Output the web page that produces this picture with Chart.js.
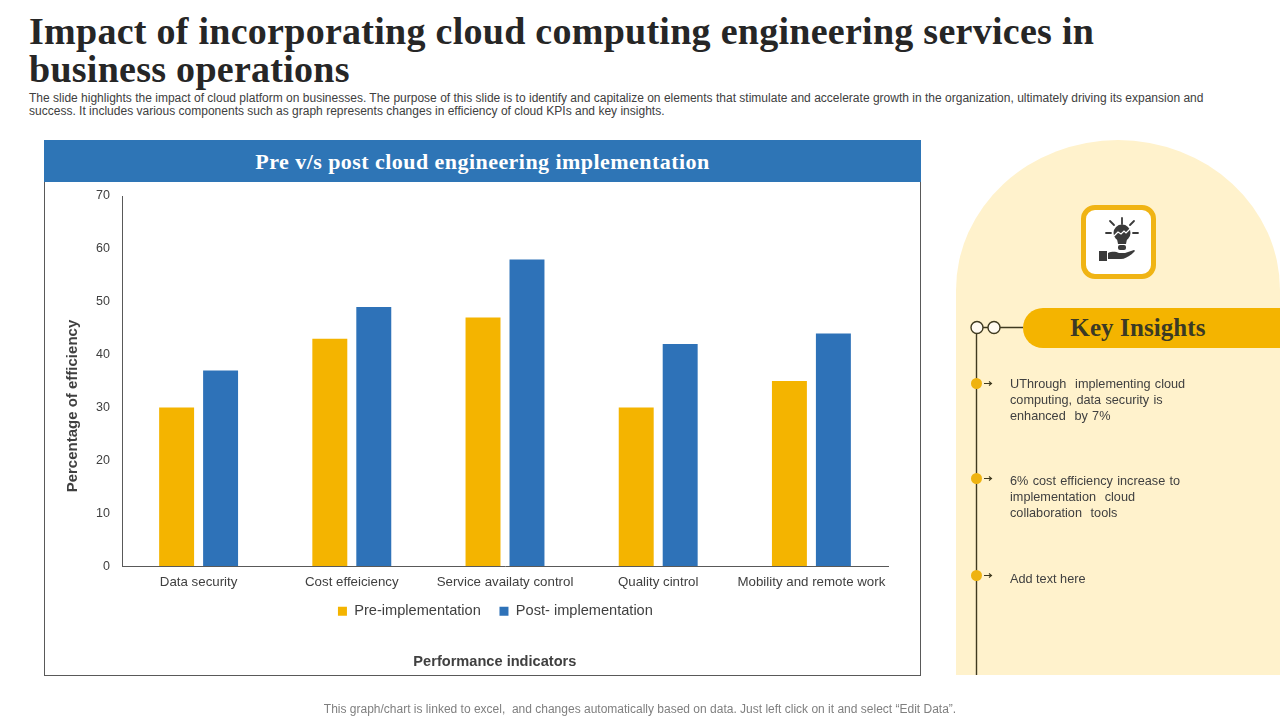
<!DOCTYPE html>
<html><head><meta charset="utf-8">
<script src="https://cdn.jsdelivr.net/npm/chart.js@4"></script>
<style>
html,body{margin:0;padding:0;background:#fff;width:1280px;height:720px;overflow:hidden}
div,canvas,svg{position:absolute}
.t{font-family:"Liberation Sans",Arial,sans-serif;white-space:nowrap}
#h{left:29px;top:12px;font:bold 38px/38px "Liberation Serif",serif;color:#262626;white-space:nowrap;letter-spacing:.27px}
#sub{left:29px;top:92px;font-size:12px;line-height:13px;color:#404040;letter-spacing:.006px}
#banner{left:44px;top:140px;width:877px;height:42px;background:#2e75b6;color:#fff;text-align:center;font:bold 22px/44px "Liberation Serif",serif;letter-spacing:.45px}
#box{left:44px;top:182px;width:875px;height:493px;border:1px solid #595959;border-top:none;background:#fff}
#arch{left:956px;top:140px;width:324px;height:535px;background:#fff2cc;border-radius:162px 162px 0 0/150px 150px 0 0}
#icon{left:1081px;top:205px;width:65px;height:64px;border:5px solid #f0b414;border-radius:14px;background:#fff}
#pill{left:1023px;top:308px;width:257px;height:40px;background:#f4b400;border-radius:20px 0 0 20px;color:#3b3a25;font:bold 25px/40px "Liberation Serif",serif;letter-spacing:.1px;text-align:center;box-sizing:border-box;padding-right:27px}
.i{left:1010px;font-size:12.7px;line-height:16px;color:#404040}
#foot{left:0;width:1280px;top:702px;text-align:center;font-size:12px;line-height:14px;color:#7f7f7f}
</style></head><body>
<div id="h">Impact of incorporating cloud computing engineering services in<br>business operations</div>
<div id="sub" class="t">The slide highlights the impact of cloud platform on businesses. The purpose of this slide is to identify and capitalize on elements that stimulate and accelerate growth in the organization, ultimately driving its expansion and<br>success. It includes various components such as graph represents changes in efficiency of cloud KPIs and key insights.</div>
<div id="banner">Pre v/s post cloud engineering implementation</div>
<div id="box"></div>
<canvas id="c" style="left:44px;top:182px;width:877px;height:493px"></canvas>
<div id="arch"></div>
<div id="icon"><svg width="65" height="64" viewBox="0 0 65 64" style="left:0;top:0">
<g transform="translate(0,2)"><g fill="none" stroke="#3a3a3a" stroke-width="1.8" stroke-linecap="round"><path d="M36 6v6M24 9l4 4M48 9l-4 4M20 21h5M47 21h5"/></g>
<circle cx="36" cy="21" r="8.500" fill="#3a3a3a"/><path d="M31 27h10l-1 5h-8z" fill="#3a3a3a"/><rect x="32" y="33" width="8" height="5" rx="2" fill="#3a3a3a"/>
<path d="M28 24l4-4 3 2 3-3 2 2 4-4" fill="none" stroke="#fff" stroke-width="1.200"/></g>
<rect x="13" y="41" width="8" height="10" fill="#3a3a3a"/><path d="M22 43c5-2 8-1 11 0h6l9-3c1 0 1 1 0 2-4 4-9 7-13 7H22z" fill="#3a3a3a"/></svg></div>
<div id="pill">Key Insights</div>
<svg width="1280" height="720" style="left:0;top:0;pointer-events:none">
<g stroke="#3f3a20" stroke-width="1.400" fill="none"><path d="M976.500 333V675M1000 327.500H1023M983 327.500H988"/>
<circle cx="977" cy="327.500" r="6" fill="#fffaf0"/><circle cx="994" cy="327.500" r="6" fill="#fffaf0"/></g>
<g stroke="#3f3a20" stroke-width="1.100" fill="none"><path d="M984 383.500h7M989 381.500l2.500 2-2.500 2M984 478.500h7M989 476.500l2.500 2-2.500 2M984 575.500h7M989 573.500l2.500 2-2.500 2"/></g>
<g fill="#efb310"><circle cx="976.500" cy="383.500" r="5.500"/><circle cx="976.500" cy="478.500" r="5.500"/><circle cx="976.500" cy="575.500" r="5.500"/></g></svg>
<div class="t i" style="top:376px;word-spacing:.8px">UThrough&nbsp; implementing cloud<br>computing, data security is<br>enhanced&nbsp; by 7%</div>
<div class="t i" style="top:473px;word-spacing:.8px">6% cost efficiency increase to<br>implementation&nbsp; cloud<br>collaboration&nbsp; tools</div>
<div class="t i" style="top:571px">Add text here</div>
<div id="foot" class="t">This graph/chart is linked to excel,&nbsp; and changes automatically based on data. Just left click on it and select “Edit Data”.</div>
<script>
const categories = ["Data security","Cost effeiciency","Service availaty control","Quality cintrol","Mobility and remote work"];
const preImplementation = [30,43,47,30,35];
const postImplementation = [37,49,58,42,44];
const yTicks = [0,10,20,30,40,50,60,70];
const FF = '"Liberation Sans",Arial,sans-serif';
const moveLegend = {id:'moveLegend',afterLayout(ch){
  const l=ch.legend, cy=425, cx=451.4;
  const dy=cy-(l.top+l.bottom)/2; l.top+=dy; l.bottom+=dy;
  const dx=cx-(l.left+l.right)/2; l.left+=dx; l.right+=dx;
}};
new Chart(document.getElementById('c'),{
  type:'bar',
  data:{labels:categories,datasets:[
    {label:'Pre-implementation',data:preImplementation,backgroundColor:'#f4b400'},
    {label:'Post- implementation',data:postImplementation,backgroundColor:'#2e72b8'}]},
  plugins:[moveLegend],
  options:{responsive:false,animation:false,devicePixelRatio:1,
    layout:{padding:{left:0,right:33,top:14,bottom:35.600}},
    datasets:{bar:{categoryPercentage:.574,barPercentage:.795}},
    plugins:{title:{display:false},tooltip:{enabled:false},
      legend:{position:'bottom',labels:{boxWidth:9,boxHeight:9,padding:18.700,color:'#404040',font:{family:FF,size:14.600}}}},
    scales:{
      x:{grid:{display:false,drawTicks:false},border:{display:true,color:'#595959'},
        ticks:{color:'#404040',padding:8.500,maxRotation:0,autoSkip:false,font:{family:FF,size:13.300}},
        title:{display:true,text:'Performance indicators     ',color:'#404040',font:{family:FF,size:14.600,weight:'bold'},padding:{top:0,bottom:-75}},
        afterFit(s){s.height=30}},
      y:{min:0,max:70,grid:{display:false,drawTicks:false},border:{display:true,color:'#595959'},
        afterBuildTicks(s){s.ticks=yTicks.map(v=>({value:v}))},
        ticks:{color:'#404040',padding:12,font:{family:FF,size:12.500}},
        title:{display:true,text:'Percentage of efficiency            ',color:'#404040',font:{family:FF,size:15,weight:'bold'},padding:{top:20,bottom:0}},
        afterFit(s){s.width=78;s.paddingTop=0;s.paddingBottom=0}}
    }}
});
</script>
</body></html>
